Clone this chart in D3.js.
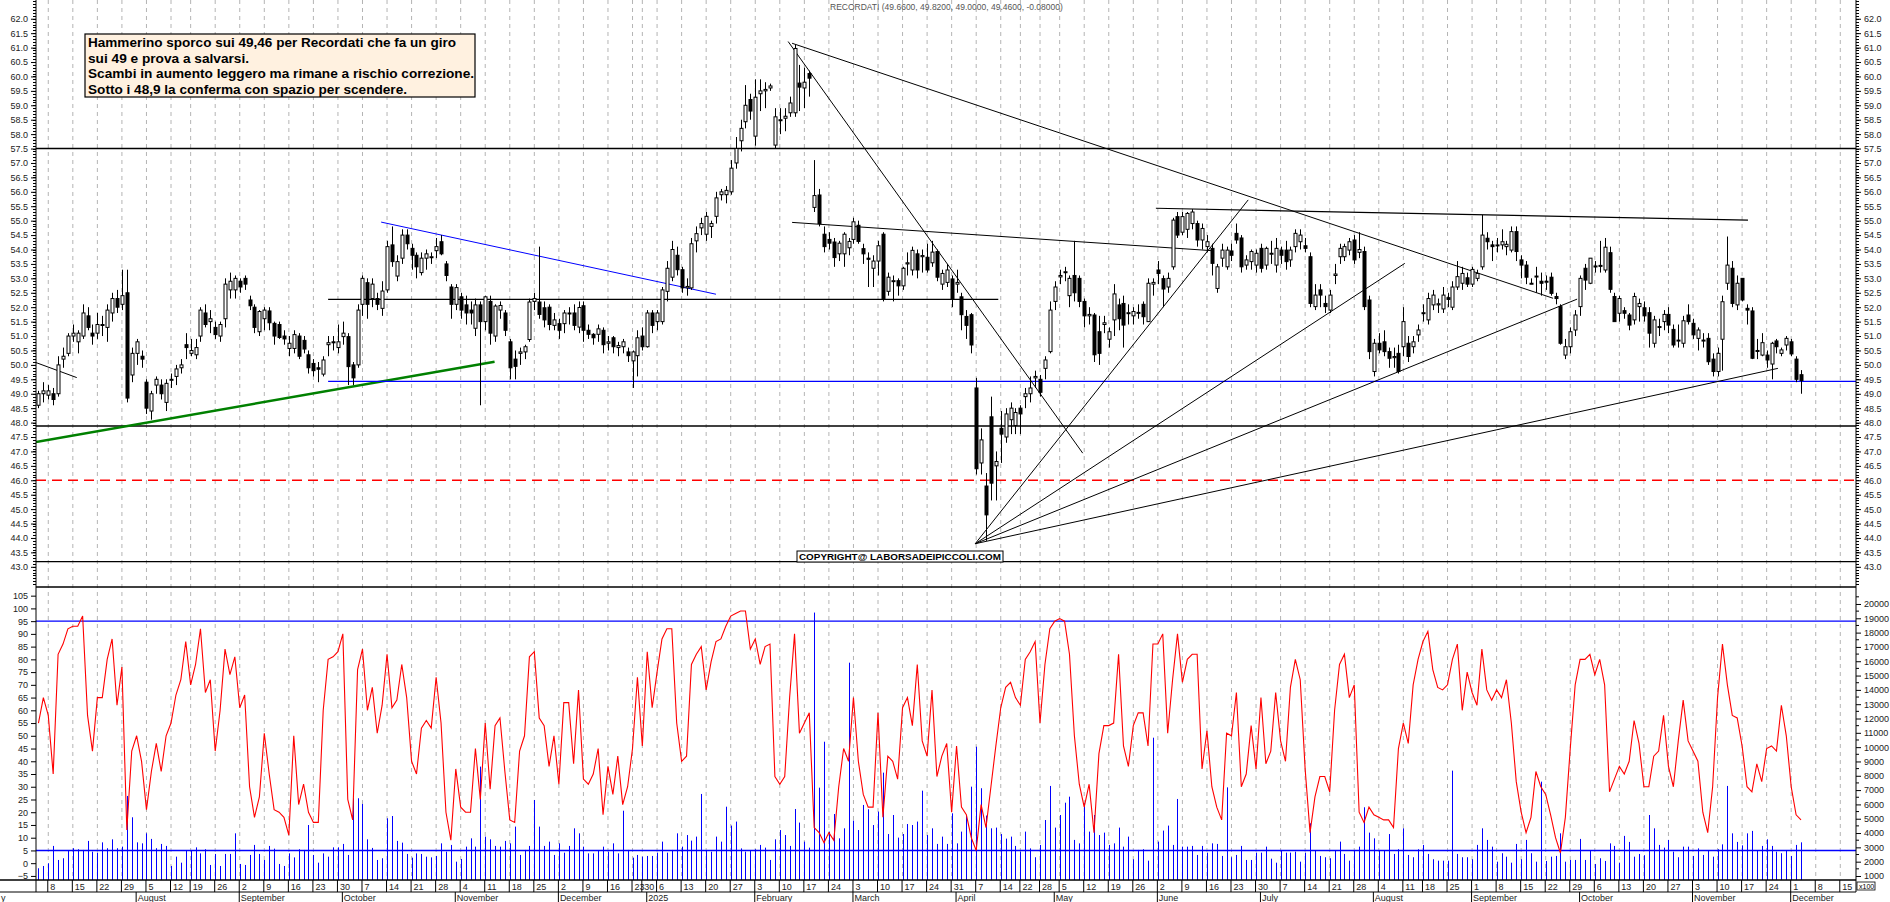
<!DOCTYPE html>
<html>
<head>
<meta charset="utf-8">
<script src="https://cdn.jsdelivr.net/npm/d3@7"></script>
<style>
  body { margin: 0; background: #fff; }
  svg { display: block; font-family: Arial, "Liberation Sans", sans-serif; }
</style>
</head>
<body>
<div id="chart"></div>
<script>
// daily candles [open, high, low, close], first one is 4 July 2024, last one 3 December 2025
var candles = [
[48.6,49.1,48.5,49.0],[49.0,49.4,48.7,49.1],[48.95,49.3,48.8,49.1],[49.0,49.2,48.6,48.8],[49.0,50.3,48.9,50.0],
[50.2,50.6,49.9,50.3],[50.4,51.1,50.3,51.0],[51.0,51.4,50.8,51.1],[50.8,51.2,50.4,51.1],[51.0,52.1,50.9,51.8],
[51.7,52.0,51.2,51.3],[51.1,51.4,50.7,51.0],[51.1,51.8,50.9,51.4],[51.4,51.7,51.0,51.4],[51.3,52.1,50.8,51.9],
[51.8,52.5,51.5,52.3],[52.3,52.6,51.8,52.0],[52.1,53.3,51.9,52.4],[52.5,53.3,48.7,48.85],[49.65,50.6,49.4,50.4],
[50.4,50.9,50.0,50.8],[50.3,50.5,49.9,50.2],[49.4,49.5,48.3,48.5],[48.4,49.1,48.1,49.0],[49.3,49.6,49.0,49.5],
[49.3,49.5,48.8,49.0],[48.7,49.5,48.4,49.36],[49.5,49.7,49.2,49.5],[49.6,50.0,49.3,49.86],[49.9,50.2,49.7,50.0],
[50.7,51.1,50.2,50.6],[50.4,50.9,50.3,50.5],[50.35,50.9,50.2,50.6],[51.0,52.0,50.8,51.9],[51.8,52.1,51.3,51.4],
[51.5,51.9,51.1,51.6],[51.3,51.5,50.9,51.05],[51.0,51.5,50.8,51.4],[51.6,53.0,51.3,52.8],[52.6,53.2,52.3,52.9],
[52.6,53.1,52.3,53.0],[52.9,53.0,52.5,52.7],[53.0,53.1,52.6,52.8],[52.25,52.4,51.9,52.05],[52.0,52.1,51.1,51.3],
[51.15,51.9,51.0,51.85],[51.6,52.0,51.2,51.9],[51.87,52.0,51.2,51.46],[51.44,51.5,50.7,51.0],[51.4,51.5,50.9,50.95],
[51.0,51.2,50.7,50.9],[50.57,51.0,50.3,50.75],[50.57,51.2,50.4,51.05],[51.0,51.1,50.2,50.3],[50.85,51.0,50.4,50.55],
[50.35,50.5,49.7,49.9],[50.05,50.2,49.6,49.8],[49.9,50.1,49.4,49.85],[49.68,50.3,49.6,50.17],[50.7,51.0,50.3,50.77],
[50.8,51.0,50.5,50.77],[50.6,51.4,50.4,50.8],[50.98,51.5,50.7,51.1],[50.98,51.1,49.3,49.94],[50.0,50.1,49.3,49.55],
[50.0,52.1,49.9,51.9],[52.1,53.1,51.7,53.0],[52.85,53.0,51.6,52.1],[52.3,53.0,52.0,52.8],[52.3,52.5,51.9,52.1],
[51.96,52.9,51.7,52.56],[52.6,54.3,52.5,54.1],[54.16,54.8,53.4,53.58],[53.08,53.8,52.9,53.58],[53.7,54.7,53.5,54.5],
[54.5,54.7,54.0,54.2],[54.04,54.2,53.3,53.8],[53.8,53.9,53.0,53.4],[53.2,53.9,53.1,53.7],[53.7,54.0,53.3,53.85],
[53.75,53.9,53.5,53.75],[53.96,54.4,53.7,54.1],[54.27,54.5,53.8,53.85],[53.5,53.6,52.9,53.1],[52.7,52.8,51.6,52.1],
[52.1,52.8,51.9,52.68],[52.36,52.5,51.6,51.9],[52.08,52.4,51.4,51.8],[51.9,52.2,51.4,51.8],[51.27,52.3,51.0,52.08],
[52.08,52.2,48.6,51.5],[51.5,52.4,51.2,52.36],[52.2,52.4,50.7,51.1],[51.0,52.1,50.8,52.04],[51.9,52.2,51.6,52.06],
[51.8,51.9,51.0,51.2],[50.8,50.9,49.5,49.9],[50.2,50.5,49.5,49.95],[50.4,50.6,50.0,50.45],[50.45,50.7,50.2,50.63],
[50.88,52.3,50.8,52.18],[52.2,52.5,51.9,52.3],[52.18,54.1,51.6,51.75],[51.98,52.2,51.3,51.56],[52.0,52.1,51.2,51.4],
[51.37,51.8,51.2,51.56],[51.43,51.6,50.9,51.2],[51.43,51.9,51.1,51.8],[51.8,52.0,51.4,51.8],[51.8,52.1,51.2,51.37],
[51.31,52.2,51.1,51.99],[52.05,52.2,50.8,51.2],[51.2,51.4,50.9,51.06],[51.06,51.1,50.7,50.94],[51.06,51.4,50.8,51.25],
[51.2,51.3,50.4,50.7],[50.75,51.0,50.5,50.8],[50.94,51.0,50.4,50.63],[50.6,50.8,50.3,50.67],[50.63,50.9,50.4,50.8],
[50.45,50.6,50.1,50.32],[50.14,50.5,49.2,50.45],[50.32,51.2,49.6,50.94],[51.0,51.3,50.5,50.63],[50.63,51.9,50.6,51.8],
[51.8,51.9,51.1,51.37],[51.5,51.9,51.2,51.8],[51.5,52.7,51.4,52.6],[52.55,53.6,52.2,53.35],[53.04,54.3,52.9,54.0],
[53.8,54.1,53.1,53.3],[53.3,53.4,52.5,52.67],[52.67,53.0,52.4,52.72],[52.67,54.4,52.6,54.2],[54.3,54.8,53.9,54.55],
[54.75,55.1,54.5,54.9],[54.53,55.3,54.3,55.15],[54.8,55.0,54.4,54.9],[55.15,56.0,54.9,55.79],[55.9,56.1,55.7,56.0],
[55.9,56.2,55.6,56.05],[56.0,57.1,55.9,56.82],[57.0,57.9,56.8,57.5],[57.77,58.5,57.4,58.2],[58.43,59.7,58.2,59.0],
[59.2,59.4,58.5,58.8],[57.93,59.9,57.6,59.28],[59.4,59.9,58.8,59.5],[59.5,59.8,58.9,59.55],[59.6,59.75,59.5,59.67],
[57.62,58.9,57.5,58.6],[58.5,58.9,58.0,58.5],[58.55,58.9,58.1,58.62],[58.74,59.3,58.6,59.08],[58.74,61.1,58.6,60.97],
[59.77,60.4,58.8,59.63],[59.6,60.3,58.9,59.8],[60.1,60.2,59.3,59.94],[55.46,57.1,55.3,55.87],[55.89,56.1,54.8,54.9],
[54.53,54.8,53.9,54.1],[54.35,54.6,54.0,54.22],[54.26,54.4,53.4,53.72],[53.85,54.3,53.6,54.22],[53.85,54.6,53.4,54.53],
[54.06,54.4,53.8,54.28],[54.35,55.1,54.2,54.96],[54.84,55.0,54.2,54.28],[54.03,54.2,53.5,53.85],[53.7,53.9,52.7,53.66],
[53.35,53.8,52.7,53.6],[53.6,54.3,53.1,54.13],[54.53,54.6,52.2,52.3],[52.55,53.2,52.4,53.04],[52.9,53.1,52.2,52.92],
[52.92,53.0,52.4,52.74],[52.74,53.4,52.6,53.35],[53.5,53.9,53.1,53.54],[53.29,54.1,53.1,53.97],[53.85,54.0,53.0,53.29],
[53.75,54.0,53.2,53.79],[53.73,54.2,53.2,53.29],[53.54,54.3,53.4,53.91],[53.93,54.0,52.9,53.04],[52.8,53.3,52.6,53.17],
[52.86,53.5,52.7,53.29],[52.98,53.1,52.0,52.3],[52.8,53.3,52.5,52.86],[52.36,52.5,51.2,51.74],[51.68,51.9,50.9,51.37],
[51.74,51.8,50.4,50.69],[49.2,49.55,46.2,46.4],[46.6,47.8,46.2,47.4],[45.8,46.25,43.9,44.8],[48.2,48.9,45.3,45.9],
[46.5,47.0,45.3,46.65],[47.8,48.4,46.6,47.6],[47.5,48.5,47.3,48.3],[48.1,48.7,47.6,48.5],[47.9,48.5,47.6,48.35],
[48.5,48.6,47.6,48.3],[48.9,49.2,48.5,49.0],[49.0,49.6,48.7,49.2],[49.55,49.8,49.2,49.6],[49.5,49.65,48.9,49.05],
[49.88,50.3,49.5,50.17],[50.46,52.2,50.4,51.9],[52.2,52.9,51.9,52.7],[53.05,53.3,52.8,53.1],[53.2,53.4,52.9,53.23],
[52.4,53.1,52.0,53.0],[53.1,54.3,52.2,52.5],[53.0,53.1,52.0,52.2],[52.2,52.3,51.3,51.7],[51.7,52.0,51.4,51.75],
[51.73,51.8,50.1,50.35],[51.15,51.7,50.0,50.4],[51.4,51.7,51.1,51.46],[50.89,51.3,50.6,51.15],[51.56,52.8,51.0,52.46],
[52.08,52.3,51.2,51.6],[52.13,52.4,50.6,51.38],[51.8,52.1,51.4,51.81],[51.7,52.0,51.4,51.85],[51.8,52.1,51.6,51.82],
[52.1,52.2,51.4,51.67],[51.5,53.0,51.5,52.83],[52.8,53.0,52.4,52.86],[53.29,53.6,52.8,53.17],[52.99,53.1,52.0,52.63],
[52.7,53.2,52.5,53.0],[53.4,55.1,53.3,55.02],[55.14,55.3,54.4,54.5],[54.6,55.3,54.5,55.14],[54.7,55.3,54.4,55.25],
[54.9,55.4,54.7,55.3],[54.9,55.0,54.1,54.33],[54.33,54.9,54.0,54.73],[54.1,54.5,53.9,54.27],[54.04,54.2,53.1,53.52],
[52.65,53.5,52.5,53.4],[53.7,54.2,53.4,53.98],[53.4,54.1,53.3,53.98],[53.95,54.2,53.6,53.8],[54.56,54.9,54.2,54.33],
[54.4,54.5,53.2,53.4],[53.46,53.8,53.3,53.64],[53.58,54.0,53.3,53.93],[53.46,54.0,53.2,53.87],[54.04,54.2,53.2,53.35],
[53.46,54.1,53.3,54.04],[53.85,54.3,53.5,53.87],[53.46,54.4,53.2,54.04],[53.98,54.1,53.5,53.8],[53.98,54.3,53.3,53.58],
[53.64,54.1,53.4,53.98],[54.1,54.7,53.9,54.56],[54.27,54.7,54.0,54.5],[54.13,54.4,53.9,54.04],[53.75,53.9,52.0,52.13],
[52.02,52.8,51.9,52.42],[52.6,52.8,52.0,52.42],[52.13,52.4,51.8,52.02],[51.9,52.6,51.8,52.42],[53.1,53.5,52.8,53.15],
[53.75,54.2,53.5,54.04],[53.75,54.2,53.6,54.1],[53.98,54.4,53.8,54.27],[54.33,54.5,53.5,53.64],[53.9,54.6,53.7,54.0],
[53.93,54.1,51.9,52.02],[52.25,52.4,50.2,50.46],[49.77,50.9,49.6,50.75],[50.75,51.1,50.4,50.52],[50.8,51.2,50.3,50.46],
[50.46,50.6,49.9,50.23],[50.25,50.6,49.9,50.29],[50.4,50.7,49.7,49.77],[50.63,52.0,50.3,51.5],[50.75,51.0,50.1,50.29],
[50.63,51.0,50.4,50.8],[51.04,51.4,50.8,51.21],[51.8,52.1,51.5,51.81],[51.56,52.5,51.4,52.3],[52.08,52.6,51.9,52.42],
[52.08,52.3,51.8,52.12],[51.94,52.7,51.8,52.42],[52.33,52.5,52.0,52.27],[52.0,52.9,51.9,52.7],[52.7,53.6,52.6,53.06],
[52.83,53.4,52.6,53.17],[53.02,53.2,52.7,52.8],[52.8,53.4,52.7,53.31],[53.0,53.3,52.9,53.17],[53.4,55.2,53.3,54.5],
[54.39,54.6,54.0,54.27],[54.16,54.3,53.6,54.1],[54.15,54.4,53.9,54.16],[54.16,54.7,54.0,54.27],[54.1,54.3,53.8,54.18],
[53.98,54.8,53.9,54.62],[54.62,54.8,53.6,53.93],[53.64,53.8,53.0,53.46],[53.46,53.6,52.8,53.04],[52.83,53.0,52.8,52.83],
[53.05,53.4,52.5,53.08],[52.9,53.2,52.4,52.83],[52.88,53.1,52.6,52.9],[53.04,53.2,52.4,52.48],[52.37,52.5,52.1,52.3],
[52.02,52.1,50.7,50.75],[50.34,50.9,50.2,50.63],[50.63,51.3,50.4,51.15],[51.21,51.9,51.0,51.73],[52.02,53.1,51.7,53.0],
[53.35,53.5,52.6,52.94],[52.83,53.7,52.8,53.7],[53.4,53.6,53.2,53.43],[53.45,54.3,53.2,53.43],[53.29,54.4,53.2,54.08],
[53.89,54.1,52.5,52.62],[52.37,52.5,51.5,51.5],[51.79,52.4,51.5,52.3],[51.88,52.0,51.6,51.79],[51.73,51.8,51.2,51.38],
[51.56,52.5,51.4,52.37],[52.02,52.3,51.5,52.13],[51.98,52.2,51.5,51.7],[51.81,52.0,50.6,51.1],[50.75,51.7,50.6,51.56],
[51.3,51.6,51.0,51.33],[51.5,51.9,51.2,51.75],[51.75,52.0,51.1,51.38],[51.23,51.4,50.6,50.69],[50.85,51.4,50.6,50.86],
[50.75,51.7,50.6,51.53],[51.73,52.1,51.4,51.5],[51.44,51.6,50.9,51.04],[50.92,51.3,50.5,51.21],[50.85,51.1,50.6,50.86],
[50.92,51.1,50.0,50.11],[50.2,50.4,49.6,49.77],[49.77,50.6,49.6,50.4],[50.89,52.4,49.8,52.19],[52.83,54.45,52.6,53.46],
[53.35,53.6,52.0,52.13],[52.08,53.1,51.9,52.83],[53.0,53.0,52.2,52.25],[51.96,52.1,51.4,51.9],[51.87,52.0,50.2,50.23],
[50.5,50.9,50.2,50.49],[50.34,51.1,50.3,50.77],[50.34,50.5,49.9,50.17],[50.03,50.8,49.5,50.75],[50.83,50.9,50.4,50.63],
[50.4,50.6,50.3,50.52],[50.69,51.0,50.5,50.92],[50.8,50.9,50.3,50.38],[50.2,50.3,49.4,49.5],[49.66,49.82,49.0,49.46]
];

// red oscillator, one value per candle
var oscillator = [
55,65,58,35,82,86,92,93,93,97,58,44,65,65,80,88,62,77,13,44,50,40,21,36,47,36,50,55,66,72,87,70,78,92,67,72,44,60,84,74,
81,61,66,30,18,26,51,35,21,20,18,11,50,23,31,20,16,16,60,80,81,83,90,25,17,76,84,60,69,51,62,82,61,64,78,65,40,35,53,56,
53,73,55,20,9,37,22,20,20,45,25,55,29,54,57,36,17,16,44,50,81,83,57,54,38,50,31,63,63,39,68,33,31,35,45,19,38,27,42,23,
30,45,73,46,83,61,75,88,92,92,55,40,42,78,82,
85,68,79,87,88,93,97,98,99,99,84,88,78,85,86,34,31,34,65,90,51,55,59,14,12,8,12,9,30,45,40,65,40,27,22,22,59,18,42,40,
33,61,65,54,78,48,42,68,34,42,47,20,46,22,19,10,5,23,14,30,46,61,69,71,65,62,80,83,87,55,78,92,95,96,95,82,50,31,22,31,
12,43,54,54,55,82,46,38,54,59,59,46,86,86,90,51,72,90,71,80,82,82,37,52,30,22,17,51,50,67,30,35,54,37,65,39,44,67,48,40,
69,80,72,37,12,
26,34,34,28,60,78,82,65,70,20,16,22,19,18,17,17,14,45,55,47,70,80,87,91,76,69,68,70,80,86,60,75,67,62,84,68,64,68,65,72,
55,32,20,12,18,36,30,27,19,10,4,18,45,70,80,80,82,74,80,70,28,33,38,35,40,56,47,30,30,42,44,58,38,30,48,64,48,44,40,20,
12,30,65,86,70,58,57,46,30,28,39,32,45,46,44,62,50,30,19,17
];

// volume (axis units, x100), one value per candle
var volume = [
1540,1700,1890,3100,2120,2240,2770,2940,2870,2820,3450,2700,2630,3350,2940,3560,2940,3050,6590,5100,
3350,3280,3980,3590,2940,3240,3100,1700,2350,1930,2770,2770,3000,2580,2870,1770,2540,1700,2540,2540,
3980,1840,1770,2470,3170,2540,2120,3100,2910,1840,1700,2580,2300,2870,2820,4560,2470,1930,2580,2350,
3000,3000,3240,2470,6430,6430,6030,3560,2960,2120,2240,5030,5190,3450,3330,2540,2280,2580,2540,2350,
2300,2400,3280,2700,3170,2000,2190,3050,3630,3050,8640,3750,3560,3100,3050,3450,3280,4450,2470,2820,
3100,6310,4450,3100,3400,2470,3280,2630,3100,4330,3980,3050,2580,2580,2770,3050,2700,3280,2580,5560,
2820,2280,2470,2350,2400,2400,2630,3400,2630,2820,3980,3050,3860,3470,3750,
6730,2770,2700,3750,3400,5840,4520,4800,2930,2700,2770,2870,3170,2980,2120,3560,4210,3860,3100,5680,
4730,3400,2980,19400,7170,10380,4100,5330,3630,4330,15900,4870,4210,5960,5660,4560,5500,8220,3930,5260,
3680,3930,4630,4560,4800,6960,3860,4330,3240,3750,3240,5380,3280,4100,5190,7240,10030,7130,5220,4330,
4380,3930,3610,3750,3100,2700,4100,2930,2310,3170,4910,7290,4380,5260,6120,6540,3520,3280,6080,4100,
5260,3860,4030,3170,3280,4380,3050,3750,2170,2820,2870,2070,10660,3400,4170,4520,3170,6380,3050,3050,
3100,2470,3100,2630,3280,3240,2400,7190,2310,2470,3100,2120,2120,2630,2630,3050,2210,1930,2770,2630,
2630,2700,2000,2630,4680,
2770,2400,2310,2240,2770,3400,2540,2070,2770,3050,5800,4030,3630,2770,2770,3930,2540,2870,4330,2470,
2310,2870,3170,2540,2170,2070,2070,2070,8360,2540,2310,2310,2170,3170,4330,3520,3050,2000,2590,2350,
1930,3240,2170,3520,2590,2000,7590,2050,2350,2400,3980,2000,2120,2120,3590,2120,2770,1840,2240,2050,
3280,3100,1930,3800,3380,2350,2540,2450,5260,4330,3170,2980,3520,2700,2310,3050,3050,2400,2930,2470,
2770,2350,2870,3210,7290,3980,3380,3140,3980,4150,2770,3100,3560,3100,2700,2590,2770,2400,3170,3350
];

var holidays = ["2024-08-15","2024-12-24","2024-12-25","2024-12-26","2024-12-31","2025-01-01",
                "2025-04-18","2025-04-21","2025-05-01","2025-08-15"];
var monthNames = ["January","February","March","April","May","June","July","August","September","October","November","December"];

var priceTicks = d3.range(43, 62.01, 0.5);
var oscTicks = d3.range(-5, 106, 5);
var volTicks = d3.range(1000, 20001, 1000);

// drawn lines, x in trading-day index (0 = 8 July 2024), y in price
var trendLines = [
  {x1: -2.5, y1: 50.08, x2: 5.8, y2: 49.56, color: "#000", w: 1},
  {x1: -2.5, y1: 47.33, x2: 90.9, y2: 50.11, color: "#008000", w: 2.5},
  {x1: 67.8, y1: 54.95, x2: 136, y2: 52.45, color: "#0000ff", w: 1},
  {x1: 57, y1: 52.27, x2: 193.5, y2: 52.27, color: "#000", w: 1.2},
  {x1: 57, y1: 49.43, x2: 368.2, y2: 49.43, color: "#0000ff", w: 1.2},
  {x1: 150.7, y1: 61.21, x2: 210.7, y2: 46.94, color: "#000", w: 1},
  {x1: 151.5, y1: 61.15, x2: 306.5, y2: 52.31, color: "#000", w: 1},
  {x1: 151.5, y1: 54.94, x2: 237, y2: 53.96, color: "#000", w: 1},
  {x1: 225.6, y1: 55.43, x2: 346.2, y2: 55.02, color: "#000", w: 1.2},
  {x1: 188.8, y1: 43.8, x2: 244.4, y2: 55.72, color: "#000", w: 1},
  {x1: 188.8, y1: 43.8, x2: 276.3, y2: 53.52, color: "#000", w: 1},
  {x1: 188.8, y1: 43.8, x2: 311.4, y2: 52.28, color: "#000", w: 1},
  {x1: 188.8, y1: 43.8, x2: 352.3, y2: 49.88, color: "#000", w: 1}
];
var levels = [
  {p: 57.5, color: "#000", dash: null},
  {p: 47.88, color: "#000", dash: null},
  {p: 46.0, color: "#ff0000", dash: "10,6"},
  {p: 43.18, color: "#000", dash: null}
];
var note = [
  "Hammerino sporco sui 49,46 per Recordati che fa un giro",
  "sui 49 e prova a salvarsi.",
  "Scambi in aumento leggero ma rimane a rischio correzione.",
  "Sotto i 48,9 la conferma con spazio per scendere."
];
var noteWidths = [368, 161, 386, 319];

var W = 1890, H = 902;
var left = 36, right = 1856, priceBottom = 587, oscBottom = 880;

// trading calendar
var iso = d3.timeFormat("%Y-%m-%d");
var days = [];
var d = new Date(2024, 6, 4);
while (days.length < 375) {
  var wd = d.getDay();
  if (wd != 0 && wd != 6 && holidays.indexOf(iso(d)) < 0) days.push(new Date(d));
  d.setDate(d.getDate() + 1);
}
var first = -2; // index of 4 July 2024

var x = d3.scaleLinear().domain([-2.5, 368.2]).range([left, right]);
var y = d3.scaleLinear().domain([42.3, 62.65]).range([priceBottom, 0]);
var yo = d3.scaleLinear().domain([-6.6, 108.4]).range([oscBottom, priceBottom]);
var yv = d3.scaleLinear().domain([720, 21186]).range([oscBottom, priceBottom]);

var svg = d3.select("#chart").append("svg").attr("width", W).attr("height", H);

svg.append("defs").append("clipPath").attr("id", "plot")
  .append("rect").attr("x", left).attr("y", 0).attr("width", right - left).attr("height", oscBottom);

// week grid
var weekStarts = [], monthStarts = [];
days.forEach(function (dt, k) {
  var i = k + first;
  if (k > 0 && dt.getDay() < days[k - 1].getDay()) weekStarts.push(i);
  if (k > 0 && dt.getMonth() != days[k - 1].getMonth()) monthStarts.push(i);
});
weekStarts = weekStarts.filter(function (i) { return x(i) < right; });

svg.append("g").selectAll("line").data(weekStarts).enter().append("line")
  .attr("x1", function (i) { return x(i); }).attr("x2", function (i) { return x(i); })
  .attr("y1", 0).attr("y2", oscBottom)
  .attr("stroke", "#b4b4b4").attr("stroke-dasharray", "4,4");

var plot = svg.append("g").attr("clip-path", "url(#plot)");

// horizontal levels
levels.forEach(function (l) {
  plot.append("line").attr("x1", left).attr("x2", right)
    .attr("y1", y(l.p)).attr("y2", y(l.p))
    .attr("stroke", l.color).attr("stroke-width", 1.4)
    .attr("stroke-dasharray", l.dash);
});

// trend lines
plot.append("g").selectAll("line").data(trendLines).enter().append("line")
  .attr("x1", function (t) { return x(t.x1); }).attr("y1", function (t) { return y(t.y1); })
  .attr("x2", function (t) { return x(t.x2); }).attr("y2", function (t) { return y(t.y2); })
  .attr("stroke", function (t) { return t.color; })
  .attr("stroke-width", function (t) { return t.w; });

// candles
var cg = plot.append("g").selectAll("g").data(candles).enter().append("g");
cg.append("line")
  .attr("x1", function (c, k) { return Math.round(x(k + first)) + 0.5; })
  .attr("x2", function (c, k) { return Math.round(x(k + first)) + 0.5; })
  .attr("y1", function (c) { return y(Math.max(c[1], c[0], c[3])); })
  .attr("y2", function (c) { return y(Math.min(c[2], c[0], c[3])); })
  .attr("stroke", "#000");
cg.append("rect")
  .attr("x", function (c, k) { return Math.round(x(k + first)) - 1; })
  .attr("width", 3)
  .attr("y", function (c) { return y(Math.max(c[0], c[3])); })
  .attr("height", function (c) { return Math.max(1, Math.abs(y(c[0]) - y(c[3]))); })
  .attr("fill", function (c) { return c[3] < c[0] ? "#000" : "#fff"; })
  .attr("stroke", "#000");

// panel separator
svg.append("line").attr("x1", left).attr("x2", right).attr("y1", priceBottom).attr("y2", priceBottom)
  .attr("stroke", "#000").attr("stroke-width", 1.5);

// volume bars
plot.append("g").selectAll("line").data(volume).enter().append("line")
  .attr("x1", function (v, k) { return Math.round(x(k + first)) + 0.5; })
  .attr("x2", function (v, k) { return Math.round(x(k + first)) + 0.5; })
  .attr("y1", oscBottom).attr("y2", function (v) { return yv(v); })
  .attr("stroke", "#0000ff");

// oscillator levels
[95, 5].forEach(function (v) {
  plot.append("line").attr("x1", left).attr("x2", right).attr("y1", yo(v)).attr("y2", yo(v))
    .attr("stroke", "#0000ff").attr("stroke-width", 1.4);
});

// oscillator line
plot.append("path").datum(oscillator)
  .attr("d", d3.line().x(function (v, k) { return x(k + first); }).y(function (v) { return yo(v); }))
  .attr("fill", "none").attr("stroke", "#ff0000").attr("stroke-width", 1.1);

// frame
svg.append("line").attr("x1", left).attr("x2", left).attr("y1", 0).attr("y2", 892).attr("stroke", "#000");
svg.append("line").attr("x1", right).attr("x2", right).attr("y1", 0).attr("y2", 892).attr("stroke", "#000");
svg.append("line").attr("x1", 0).attr("x2", right).attr("y1", oscBottom).attr("y2", oscBottom).attr("stroke", "#000").attr("stroke-width", 1.5);
svg.append("line").attr("x1", 0).attr("x2", right).attr("y1", 892).attr("y2", 892).attr("stroke", "#000");

// price axes
var fmt1 = d3.format(".1f");
var rightAxis = d3.axisRight(y).tickValues(priceTicks).tickFormat(fmt1).tickSize(5);
var leftAxis = d3.axisLeft(y).tickValues(priceTicks).tickFormat(fmt1).tickSize(5);
var gr = svg.append("g").attr("transform", "translate(" + right + ",0)").call(rightAxis);
var gl = svg.append("g").attr("transform", "translate(" + left + ",0)").call(leftAxis);
// minor ticks
var minor = d3.range(42.4, 62.6, 0.1);
[[right, 1], [left, -1]].forEach(function (s) {
  svg.append("g").selectAll("line").data(minor).enter().append("line")
    .attr("x1", s[0]).attr("x2", s[0] + 3 * s[1])
    .attr("y1", function (p) { return Math.round(y(p)) + 0.5; })
    .attr("y2", function (p) { return Math.round(y(p)) + 0.5; })
    .attr("stroke", "#000");
});
svg.append("g").attr("transform", "translate(" + left + ",0)")
  .call(d3.axisLeft(yo).tickValues(oscTicks).tickSize(5));
svg.append("g").attr("transform", "translate(" + right + ",0)")
  .call(d3.axisRight(yv).tickValues(volTicks).tickFormat(d3.format("d")).tickSize(5));
svg.append("g").selectAll("line").data(d3.range(1500, 20600, 1000)).enter().append("line")
  .attr("x1", right).attr("x2", right + 3)
  .attr("y1", function (v) { return yv(v); }).attr("y2", function (v) { return yv(v); })
  .attr("stroke", "#000");
svg.selectAll(".domain").remove();
svg.selectAll(".tick text").attr("font-size", 9).attr("fill", "#222");

// hide price labels that would fall into the other panel
gr.selectAll(".tick").filter(function (p) { return y(p) > priceBottom - 4; }).remove();
gl.selectAll(".tick").filter(function (p) { return y(p) > priceBottom - 4; }).remove();

svg.append("rect").attr("x", right + 1).attr("y", 882).attr("width", 18).attr("height", 8)
  .attr("fill", "#fff").attr("stroke", "#000").attr("stroke-width", 0.8);
svg.append("text").attr("x", right + 3).attr("y", 889).attr("font-size", 7).text("x100");

// date axis
var dayRow = svg.append("g");
weekStarts.forEach(function (i) {
  var dt = days[i - first];
  dayRow.append("line").attr("x1", x(i) - 0.5).attr("x2", x(i) - 0.5).attr("y1", oscBottom).attr("y2", 892).attr("stroke", "#000");
  dayRow.append("text").attr("x", x(i) + 2).attr("y", 889.5).attr("font-size", 9).attr("fill", "#222").text(dt.getDate());
});
svg.append("text").attr("x", 1).attr("y", 900.5).attr("font-size", 9).attr("fill", "#222").text("y");
monthStarts.filter(function (i) { return x(i) < right - 20; }).forEach(function (i) {
  var dt = days[i - first];
  var label = dt.getMonth() == 0 ? String(dt.getFullYear()) : monthNames[dt.getMonth()];
  svg.append("line").attr("x1", x(i) - 0.5).attr("x2", x(i) - 0.5).attr("y1", 892).attr("y2", H).attr("stroke", "#000");
  svg.append("text").attr("x", x(i) + 1).attr("y", 900.5).attr("font-size", 9).attr("fill", "#222").text(label);
});

// title
svg.append("text").attr("x", 830).attr("y", 10).attr("font-size", 8.5).attr("fill", "#555")
  .text("RECORDATI (49.6600, 49.8200, 49.0000, 49.4600, -0.08000)");

// note box
svg.append("rect").attr("x", 85).attr("y", 34).attr("width", 390).attr("height", 63)
  .attr("fill", "#fff1e0").attr("stroke", "#000").attr("stroke-width", 1.2);
note.forEach(function (t, k) {
  svg.append("text").attr("x", 88).attr("y", 47 + k * 15.7)
    .attr("font-size", 13).attr("font-weight", "bold")
    .attr("font-family", "'Liberation Sans Narrow', 'Liberation Sans', Arial, sans-serif")
    .attr("textLength", noteWidths[k]).attr("lengthAdjust", "spacingAndGlyphs")
    .text(t);
});

// copyright
svg.append("rect").attr("x", 797).attr("y", 551).attr("width", 206).attr("height", 11)
  .attr("fill", "#fff").attr("stroke", "#000");
svg.append("text").attr("x", 799).attr("y", 560).attr("font-size", 9).attr("font-weight", "bold")
  .attr("textLength", 202).attr("lengthAdjust", "spacingAndGlyphs")
  .text("COPYRIGHT@ LABORSADEIPICCOLI.COM");
</script>
</body>
</html>
